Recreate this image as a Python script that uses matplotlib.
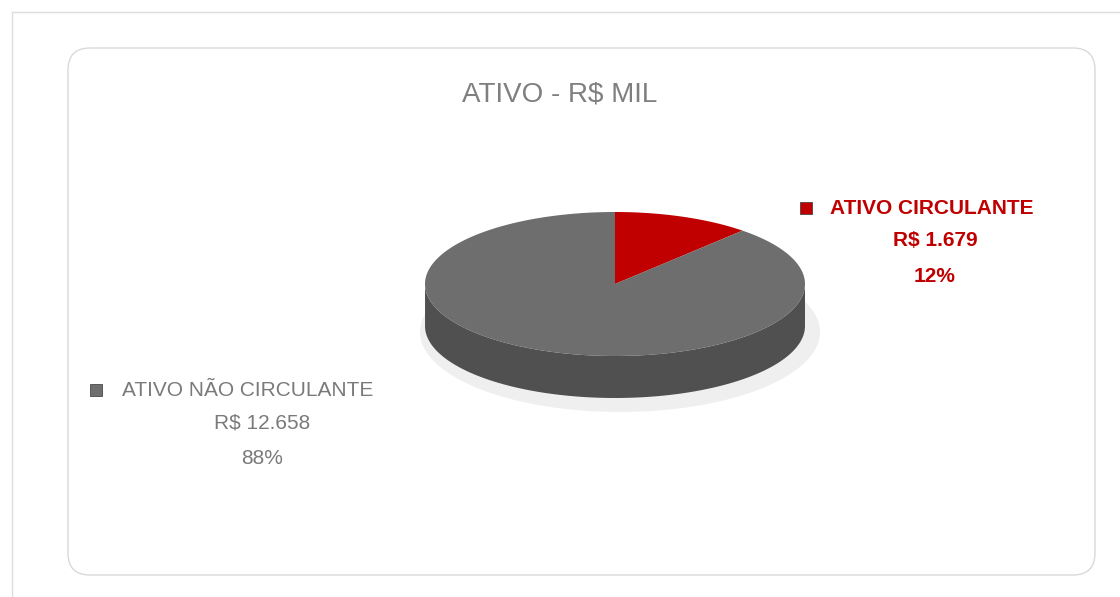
import numpy as np
import matplotlib.pyplot as plt
from matplotlib.patches import Polygon, FancyBboxPatch, Ellipse, Rectangle

categories = ["ATIVO CIRCULANTE", "ATIVO NÃO CIRCULANTE"]
values = [1679, 12658]
value_labels = ["R$ 1.679", "R$ 12.658"]
pct_labels = ["12%", "88%"]
colors = ["#C00000", "#6E6E6E"]
side_colors = ["#8A0000", "#505050"]
text_colors = ["#C00000", "#7A7A7A"]

W, H = 1120, 597
fig = plt.figure(figsize=(W / 100, H / 100), dpi=100)
ax = fig.add_axes([0, 0, 1, 1])
ax.set_xlim(0, W)
ax.set_ylim(H, 0)
ax.axis("off")

# outer frame lines
ax.plot([12, 12], [597, 12], color="#DDDDDD", lw=1)
ax.plot([12, 1120], [12, 12], color="#DDDDDD", lw=1)
ax.add_patch(FancyBboxPatch((68, 48), 1027, 527, boxstyle="round,pad=0,rounding_size=22",
                            fc="white", ec="#D9D9D9", lw=1))

ax.text(560, 95, "ATIVO - R$ MIL", ha="center", va="center", fontsize=20,
        color="#7F7F7F", family="Liberation Sans")

cx, cy, rx, ry, depth = 615, 284, 190, 72, 42

# shadow
ax.add_patch(Ellipse((cx + 5, cy + depth + 6), 2 * rx + 20, 2 * ry + 16, fc="#EFEFEF", ec="none"))

fracs = np.array(values) / sum(values)
start = 90.0
for i, f in enumerate(fracs):
    end = start - f * 360
    th = np.radians(np.linspace(start, end, 200))
    x = cx + rx * np.cos(th)
    y = cy - ry * np.sin(th)
    front = np.sin(th) <= 0
    if front.any():
        xs, ys = x[front], y[front]
        side = np.column_stack([np.concatenate([xs, xs[::-1]]),
                                np.concatenate([ys, ys[::-1] + depth])])
        ax.add_patch(Polygon(side, closed=True, fc=side_colors[i], ec="none"))
    pts = np.vstack([[cx, cy], np.column_stack([x, y])])
    ax.add_patch(Polygon(pts, closed=True, fc=colors[i], ec="none"))
    start = end

# labels
lab = [(800, 830, 935, 208), (90, 122, 262, 390)]
for i in range(2):
    mx, tx, ccx, ty = lab[i]
    wt = "bold" if i == 0 else "normal"
    ax.add_patch(Rectangle((mx, ty - 6), 12, 12, fc=colors[i], ec="#333333", lw=0.5))
    ax.text(tx, ty, categories[i], ha="left", va="center", fontsize=15,
            color=text_colors[i], family="Liberation Sans", fontweight=wt)
    ax.text(ccx, ty + 33, value_labels[i], ha="center", va="center", fontsize=15,
            color=text_colors[i], family="Liberation Sans", fontweight=wt)
    ax.text(ccx, ty + 68, pct_labels[i], ha="center", va="center", fontsize=15,
            color=text_colors[i], family="Liberation Sans", fontweight=wt)

fig.savefig("out.png", dpi=100)
